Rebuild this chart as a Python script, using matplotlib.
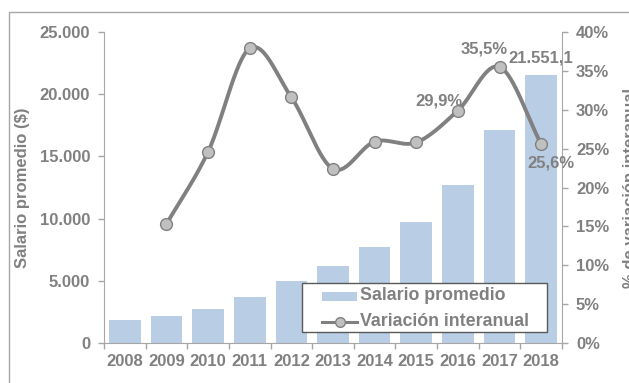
import matplotlib
matplotlib.use("Agg")
import matplotlib.pyplot as plt
import numpy as np
from matplotlib.patches import Rectangle
from matplotlib.lines import Line2D

years = ["2008", "2009", "2010", "2011", "2012", "2013",
         "2014", "2015", "2016", "2017", "2018"]
salario = [1850, 2170, 2730, 3700, 4990, 6190, 7720, 9730, 12700, 17120, 21551.1]
variacion = [None, 15.3, 24.6, 37.9, 31.6, 22.4, 25.9, 25.8, 29.9, 35.5, 25.6]

GREY = "#808080"
SPINE = "#A6A6A6"
BAR = "#B9CDE5"
FONT = "Liberation Sans"
FS = 12
W, H = 629, 383

plt.rcParams["font.family"] = FONT
plt.rcParams["font.weight"] = "bold"


def smooth(xs, ys, n=30):
    # Catmull-Rom pass through the points, like a smoothed line series
    xs = np.asarray(xs, float)
    ys = np.asarray(ys, float)
    px = np.concatenate([[2 * xs[0] - xs[1]], xs, [2 * xs[-1] - xs[-2]]])
    py = np.concatenate([[2 * ys[0] - ys[1]], ys, [2 * ys[-1] - ys[-2]]])
    ox, oy = [], []
    t = np.linspace(0, 1, n)
    for i in range(1, len(px) - 2):
        for arr, out in ((px, ox), (py, oy)):
            p0, p1, p2, p3 = arr[i - 1], arr[i], arr[i + 1], arr[i + 2]
            m1 = (p2 - p0) / 2
            m2 = (p3 - p1) / 2
            h00 = 2 * t**3 - 3 * t**2 + 1
            h10 = t**3 - 2 * t**2 + t
            h01 = -2 * t**3 + 3 * t**2
            h11 = t**3 - t**2
            out.extend(h00 * p1 + h10 * m1 + h01 * p2 + h11 * m2)
    return np.array(ox), np.array(oy)


def fx(px):
    return px / W


def fy(py):
    return 1 - py / H


fig = plt.figure(figsize=(W / 100, H / 100), dpi=100)
ax = fig.add_axes([fx(104), fy(343), 458 / W, 311 / H])
ax2 = ax.twinx()

x = np.arange(len(years))
ax.bar(x, salario, width=0.76, color=BAR, zorder=1)
ax.set_xlim(-0.5, len(years) - 0.5)
ax.set_ylim(0, 25000)
ax.set_yticks(range(0, 25001, 5000))
ax.set_yticklabels(["0", "5.000", "10.000", "15.000", "20.000", "25.000"])
ax.set_xticks(np.arange(-0.5, len(years), 1), minor=False)
ax.set_xticklabels([])
ax.set_xticks(x, minor=True)
ax.set_xticklabels(years, minor=True)
ax.tick_params(axis="x", which="minor", length=0, pad=8)
ax.tick_params(axis="x", which="major", length=4, width=1, color=SPINE, direction="out")
ax.tick_params(axis="y", length=4, width=1, color=SPINE, direction="out", pad=6)
ax.tick_params(axis="both", which="both", labelsize=FS, labelcolor=GREY)
for lab in ax.get_xticklabels(minor=True) + ax.get_yticklabels():
    lab.set_fontweight("bold")

ax2.set_ylim(0, 40)
ax2.set_yticks(range(0, 41, 5))
ax2.set_yticklabels([f"{v}%" for v in range(0, 41, 5)])
ax2.tick_params(axis="y", length=4, width=1, color=SPINE, direction="out",
                labelsize=FS, labelcolor=GREY, pad=6)
for lab in ax2.get_yticklabels():
    lab.set_fontweight("bold")

for a in (ax, ax2):
    for s in a.spines.values():
        s.set_visible(False)
ax.spines["left"].set_visible(True)
ax.spines["left"].set_color(SPINE)
ax.spines["bottom"].set_visible(True)
ax.spines["bottom"].set_color(SPINE)
ax2.spines["right"].set_visible(True)
ax2.spines["right"].set_color(SPINE)

# variation line (no value for the first year)
vx = [xi for xi, v in zip(x, variacion) if v is not None]
vy = [v for v in variacion if v is not None]
sx, sy = smooth(vx, vy)
ax2.plot(sx, sy, color=GREY, lw=2.8, zorder=3, solid_capstyle="round")
ax2.plot(vx, vy, ls="none", marker="o", ms=8.5, mfc="#C0C0C0", mec=GREY,
         mew=1, zorder=4)

# data labels
lab_kw = dict(textcoords="offset points", ha="center", va="center",
              fontsize=FS, color=GREY, fontweight="bold")
ax2.annotate("29,9%", (x[8], variacion[8]), xytext=(-14, 6.5), zorder=2, **lab_kw)
ax2.annotate("35,5%", (x[9], variacion[9]), xytext=(-11, 13), **lab_kw)
ax2.annotate("25,6%", (x[10], variacion[10]), xytext=(7, -13.5), **lab_kw)
ax.annotate("21.551,1", (x[10], salario[10]), xytext=(0, 12.5), **lab_kw)

ax.set_ylabel("Salario promedio ($)", fontsize=FS, color=GREY,
              fontweight="bold", labelpad=7)
ax2.set_ylabel("% de variación interanual", fontsize=FS, color=GREY,
               fontweight="bold", labelpad=10, rotation=90, va="top")

# legend box, laid out by hand
tf = fig.transFigure
fig.patches.append(Rectangle((fx(302), fy(332)), 245 / W, 49 / H, transform=tf,
                             facecolor="white", edgecolor="#595959", lw=1.0,
                             zorder=5))
fig.patches.append(Rectangle((fx(322), fy(301)), 35 / W, 9 / H, transform=tf,
                             facecolor=BAR, edgecolor="none", zorder=6))
fig.lines.append(Line2D([fx(322), fx(357)], [fy(322), fy(322)], transform=tf,
                        color=GREY, lw=2.2, zorder=6))
fig.lines.append(Line2D([fx(339.5)], [fy(322)], transform=tf, ls="none",
                        marker="o", ms=7, mfc="#C0C0C0", mec=GREY, mew=1,
                        zorder=7))
for label, ty in (("Salario promedio", 296), ("Variación interanual", 322)):
    fig.text(fx(360), fy(ty), label, transform=tf, ha="left", va="center",
             fontsize=12.8, color=GREY, fontweight="bold", zorder=7)

# outer chart frame
fig.patches.append(Rectangle((fx(9), -0.1), 1.2, fy(12) + 0.1,
                             transform=tf, fill=False,
                             edgecolor=SPINE, lw=1.0))

fig.savefig("out.png", dpi=100, facecolor="white")
